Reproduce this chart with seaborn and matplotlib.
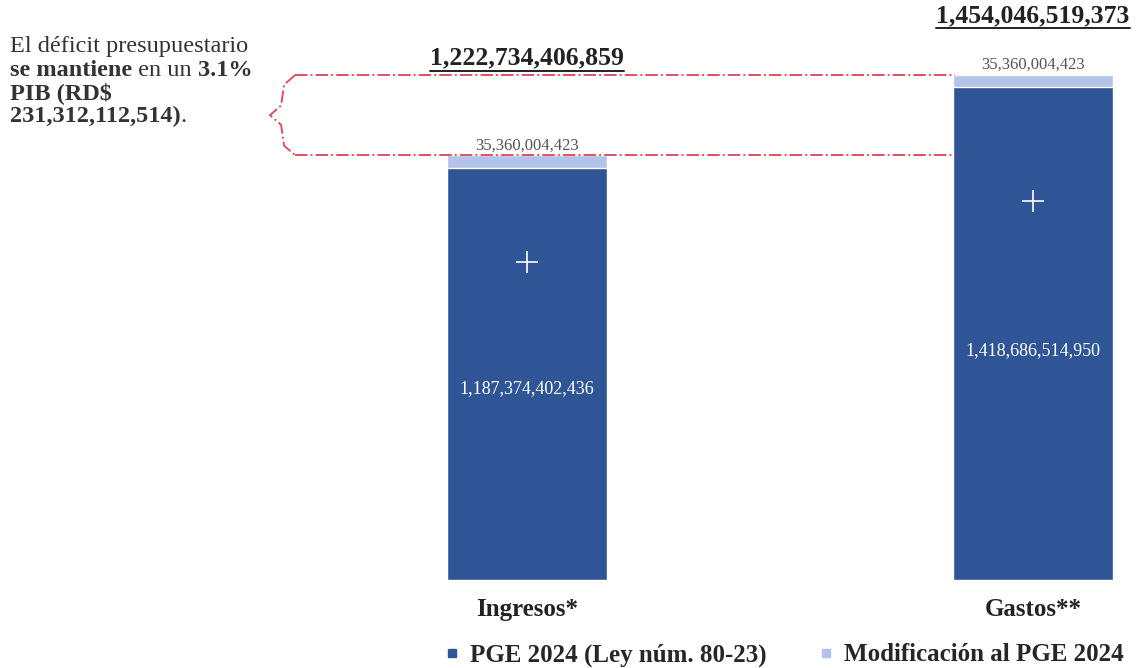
import seaborn as sns
import matplotlib.pyplot as plt
from matplotlib.lines import Line2D

# data
categories = ["Ingresos*", "Gastos**"]
pge_2024 = [1187374402436, 1418686514950]
modificacion = [35360004423, 35360004423]
series_labels = ["PGE 2024 (Ley núm. 80-23)", "Modificación al PGE 2024"]
deficit_label = "231,312,112,514"

DARK = "#2F5597"
LIGHT = "#B4C3E8"
RED = "#E0505F"
SERIF = "Liberation Serif"


def fmt(v):
    ''' number with thousands commas '''
    return f"{v:,}"


def underline(fig, txt, color="#222222", lw=1.4):
    ''' draw a line under a text artist (matplotlib has no underline) '''
    fig.canvas.draw()
    bb = txt.get_window_extent()
    inv = fig.transFigure.inverted()
    (x0, y0), (x1, _) = inv.transform([(bb.x0, bb.y0 - 1), (bb.x1, bb.y0)])
    fig.add_artist(Line2D([x0, x1], [y0, y0], color=color, lw=lw))


def main():
    sns.set_theme(style="white")
    plt.rcParams["font.family"] = [SERIF, "DejaVu Serif"]

    totals = [a + b for a, b in zip(pge_2024, modificacion)]

    fig = plt.figure(figsize=(11.38, 6.68), dpi=100)
    ax = fig.add_axes([0, 88 / 668, 1, 580 / 668])

    sns.barplot(x=categories, y=totals, color=LIGHT, saturation=1, width=0.316, ax=ax)
    sns.barplot(x=categories, y=pge_2024, color=DARK, saturation=1, width=0.316, ax=ax)

    ax.set_xlim(-1.0415, 1.2075)
    ax.set_ylim(0, 1.67e12)
    for s in ax.spines.values():
        s.set_visible(False)
    ax.set_yticks([])
    ax.set_ylabel("")
    ax.tick_params(axis="x", length=0, pad=13)
    ax.set_xticks(range(len(categories)))
    ax.set_xticklabels(categories, fontsize=18, fontweight="bold", color="#222222")

    # labels on bars
    for i in range(len(categories)):
        ax.text(i, pge_2024[i] * 0.465, fmt(pge_2024[i]), ha="center", va="center",
                color="white", fontsize=13)
        ax.text(i, totals[i] + 0.006e12, fmt(modificacion[i]), ha="center", va="bottom",
                color="#555555", fontsize=12)
        ax.scatter([i], [pge_2024[i] * 0.77], marker="+", s=260, color="white",
                   linewidths=1.2, zorder=5)

    t1 = ax.text(0, totals[0] + 0.28e12, fmt(totals[0]), ha="center", va="center",
                 fontsize=18.5, fontweight="bold", color="#222222")
    t2 = ax.text(1, totals[1] + 0.17e12, fmt(totals[1]), ha="center", va="center",
                 fontsize=18.5, fontweight="bold", color="#222222")

    # dash-dot lines and brace showing the deficit
    x_start, x_end = -0.458, 0.845
    top, bot = totals[1], totals[0]
    mid = (top + bot) / 2
    for yv in (top, bot):
        ax.plot([x_start, x_end], [yv, yv], color=RED, lw=1.4, ls="-.")
    gap = top - bot
    ax.plot([x_start, x_start - 0.022, x_start - 0.028, x_start - 0.05,
             x_start - 0.028, x_start - 0.022, x_start],
            [top, top - gap * 0.12, mid + gap * 0.12, mid,
             mid - gap * 0.12, bot + gap * 0.12, bot],
            color=RED, lw=1.4, ls="-.")

    # left note with mixed bold text, pieces placed one after another
    lines = [
        [("El déficit presupuestario", "normal")],
        [("se mantiene", "bold"), (" en un ", "normal"), ("3.1%", "bold")],
        [("PIB (RD$", "bold")],
        [(deficit_label + ")", "bold"), (".", "normal")],
    ]
    y0 = 1 - 52 / 668
    inv = fig.transFigure.inverted()
    for k, parts in enumerate(lines):
        x = 10 / 1138
        for text, weight in parts:
            t = fig.text(x, y0 - k * 23.5 / 668, text, fontweight=weight, ha="left",
                         va="baseline", fontsize=17.5, color="#333333")
            fig.canvas.draw()
            bb = t.get_window_extent()
            x = inv.transform((bb.x1, bb.y0))[0]

    handles = [Line2D([], [], ls="", marker="s", markersize=6, color=DARK),
               Line2D([], [], ls="", marker="s", markersize=6, color=LIGHT)]
    fig.legend(handles, series_labels, loc="center", bbox_to_anchor=(783 / 1138, 1 - 655 / 668),
               ncol=2, frameon=False, handletextpad=0.3, columnspacing=2.0,
               prop={"family": SERIF, "weight": "bold", "size": 18}, handlelength=0.8)

    underline(fig, t1)
    underline(fig, t2)

    fig.savefig("out.png", dpi=100, facecolor="white")


if __name__ == "__main__":
    main()
